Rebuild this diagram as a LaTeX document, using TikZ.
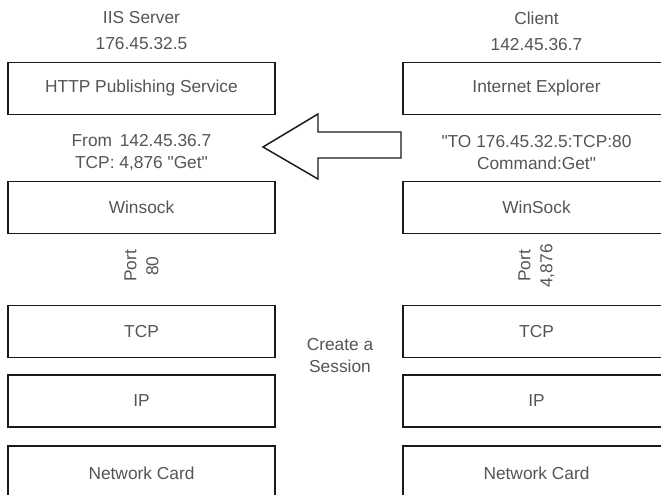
\documentclass[tikz,border=0pt]{standalone}
\usepackage{fontspec}
\setmainfont{Liberation Sans}
\usetikzlibrary{positioning}
\definecolor{inkgray}{HTML}{555555}
\definecolor{edgeblack}{HTML}{1A1A1A}
\tikzset{
  layerbox/.style={draw=edgeblack, line width=1.1pt, fill=white, text=inkgray,
                   minimum width=200.25pt, minimum height=39pt, inner sep=0pt},
  hostlabel/.style={align=center, text=inkgray, inner sep=0pt},
  msglabel/.style={align=center, text=inkgray, inner sep=0pt},
  portlabel/.style={align=center, text=inkgray, rotate=90, inner sep=0pt},
  blockarrow/.style={draw=edgeblack, line width=1.1pt, fill=white, line join=miter},
}

\begin{document}
\begin{tikzpicture}[x=0.75pt, y=0.75pt, font=\fontsize{13}{16.5}\selectfont]
\useasboundingbox (0,0) rectangle (661,494);
\clip (0,0) rectangle (661,494);

% ---- server stack (left) ----
\node[hostlabel] (srvname) at (141.5,463) {IIS Server\\[3pt]176.45.32.5};
\node[layerbox] (srvhttp) at (141.5,405.5) {HTTP Publishing Service};
\node[msglabel] (srvmsg) at (141.5,341) {From \,142.45.36.7\\TCP: 4,876 \textquotedbl Get\textquotedbl};
\node[layerbox] (srvsock) at (141.5,286.5) {Winsock};
\node[portlabel] (srvport) at (141.5,228) {Port\\80};
\node[layerbox] (srvtcp) at (141.5,162.5) {TCP};
\node[layerbox] (srvip) at (141.5,93) {IP};
\node[layerbox, minimum height=40.5pt] (srvnic) at (141.5,21) {Network Card};

% ---- client stack (right) ----
\node[hostlabel] (cliname) at (536.5,463) {Client\\[3pt]142.45.36.7};
\node[layerbox] (clihttp) at (536.5,405.5) {Internet Explorer};
\node[msglabel] (climsg) at (536.5,341) {\textquotedbl TO 176.45.32.5:TCP:80\\Command:Get\textquotedbl};
\node[layerbox] (clisock) at (536.5,286.5) {WinSock};
\node[portlabel] (cliport) at (536.5,228) {Port\\4,876};
\node[layerbox] (clitcp) at (536.5,162.5) {TCP};
\node[layerbox] (cliip) at (536.5,93) {IP};
\node[layerbox, minimum height=40.5pt] (clinic) at (536.5,21) {Network Card};

% ---- session note between the TCP layers ----
\node[msglabel] (session) at (340,138) {Create a\\Session};

% ---- request arrow (client -> server) ----
\coordinate (tip) at (263,347);
\draw[blockarrow] (tip) -- ++(55,33) -- ++(0,-18) -- ++(83,0) -- ++(0,-26)
   -- ++(-83,0) -- ++(0,-21) -- cycle;

\end{tikzpicture}
\end{document}
